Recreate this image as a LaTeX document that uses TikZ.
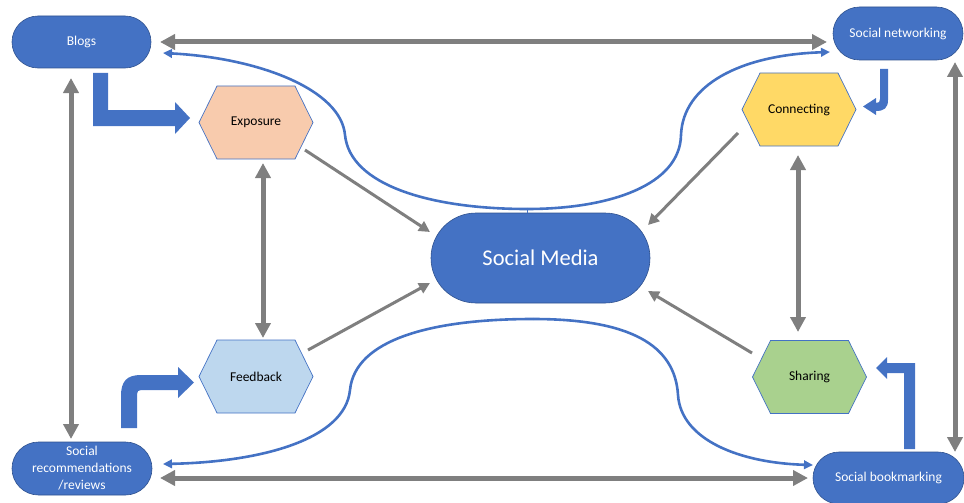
\documentclass[tikz,border=0pt]{standalone}
\usepackage{fontspec}
\setmainfont{Carlito}
\usetikzlibrary{arrows.meta,shapes.misc,calc}
\definecolor{myblue}{HTML}{4472C4}
\definecolor{pillborder}{HTML}{2F528F}
\definecolor{mygray}{HTML}{7F7F7F}
\definecolor{expofill}{HTML}{F8CBAD}
\definecolor{connfill}{HTML}{FFD966}
\definecolor{feedfill}{HTML}{BDD7EE}
\definecolor{sharefill}{HTML}{A9D18E}
\newcommand\hexagonnode[5]{%
  \draw[draw=myblue, line width=0.7pt, fill=#4] ({#2-57},#3) -- ({#2-39},{#3-36.5}) -- ({#2+39},{#3-36.5}) -- ({#2+57},#3) -- ({#2+39},{#3+36.5}) -- ({#2-39},{#3+36.5}) -- cycle;
  \node[hexlabel] (#1) at (#2,#3) {#5};}
\begin{document}
\begin{tikzpicture}[x=1pt,y=-1pt,
  pill/.style={rounded rectangle, fill=myblue, draw=pillborder, line width=0.6pt, text=white, inner sep=0pt, font=\fontsize{13.5}{17}\selectfont, align=center},
  hexlabel/.style={minimum width=114pt, minimum height=73pt, inner sep=0pt, font=\fontsize{13.5}{17}\selectfont},
  garrow/.style={draw=mygray, line width=5pt, {Triangle[length=15pt,width=15pt]}-{Triangle[length=15pt,width=15pt]}},
  tarrow/.style={draw=mygray, line width=3pt, -{Triangle[length=11pt,width=11pt]}},
  barrow/.style={draw=myblue, line width=2.6pt, -{Triangle[length=9pt,width=8.5pt]}},
  blockarrow/.style={fill=myblue},
]
\useasboundingbox (0,0) rectangle (964,503);

% pills
\node[pill, minimum width=139pt, minimum height=52pt] (blogs) at (81.5,42) {Blogs};
\node[pill, minimum width=130pt, minimum height=53pt] (snet) at (898,33.5) {Social networking};
\node[pill, minimum width=140pt, minimum height=53pt] (srec) at (82,468.5) {Social\\recommendations\\/reviews};
\node[pill, minimum width=151pt, minimum height=52pt] (sbook) at (888.5,478) {Social bookmarking};
\node[pill, minimum width=219pt, minimum height=90pt, font=\fontsize{22.5}{26}\selectfont] (sm) at (540.5,258) {Social Media};

% hexagons
\hexagonnode{expo}{256}{122.5}{expofill}{Exposure}
\hexagonnode{conn}{799}{109.5}{connfill}{Connecting}
\hexagonnode{feed}{256}{376.5}{feedfill}{Feedback}
\hexagonnode{share}{809.5}{377}{sharefill}{Sharing}

% coordinates for connector ends
\coordinate (tl) at (160,42);   \coordinate (tr) at (827,42);
\coordinate (bl) at (160,478);  \coordinate (br) at (808,478);
\coordinate (lt) at (71,78);    \coordinate (lb) at (71,439);
\coordinate (rt) at (955,62);   \coordinate (rb) at (955,452);
\coordinate (et) at (263,163);  \coordinate (eb) at (263,338);
\coordinate (ct) at (798,155);  \coordinate (cb) at (798,332);
\coordinate (e1) at (305,150);  \coordinate (e2) at (430,232);
\coordinate (f1) at (308,350);  \coordinate (f2) at (430,283);
\coordinate (c1) at (738,133);  \coordinate (c2) at (648,225);
\coordinate (s1) at (752,353);  \coordinate (s2) at (648,291);
\coordinate (jt) at (527,209);  \coordinate (jb) at (533,319);
\coordinate (ab) at (163,53);   \coordinate (an) at (830,52);
\coordinate (ar) at (163,464);  \coordinate (ak) at (813,465);

% gray double arrows
\draw[garrow] (tl) -- (tr);
\draw[garrow] (bl) -- (br);
\draw[garrow] (lt) -- (lb);
\draw[garrow] (rt) -- (rb);
\draw[garrow] (et) -- (eb);
\draw[garrow] (ct) -- (cb);

% thin gray arrows to Social Media
\draw[tarrow] (e1) -- (e2);
\draw[tarrow] (f1) -- (f2);
\draw[tarrow] (c1) -- (c2);
\draw[tarrow] (s1) -- (s2);

% blue curves
\draw[barrow] (jt) .. controls (430,209) and (350,185) .. (345,135) .. controls (341,90) and (260,58) .. (ab);
\draw[barrow] (jt) .. controls (610,209) and (680,185) .. (681,135) .. controls (683,85) and (740,55) .. (an);
\draw[barrow] (jb) .. controls (430,319) and (355,340) .. (350,390) .. controls (345,440) and (260,462) .. (ar);
\draw[barrow] (jb) .. controls (630,319) and (675,345) .. (678,395) .. controls (681,440) and (740,463) .. (ak);
\draw[myblue, line width=1pt] (jt) -- (527,213);

% blue block arrows
\fill[blockarrow] (93,73) -- (108,73) -- (108,110) -- (175,110) -- (175,102) -- (190,118) -- (175,134) -- (175,126) -- (93,126) -- cycle;
\fill[blockarrow] (121,428) -- (121,396) .. controls (121,381) and (127,375) .. (141,375) -- (178,375) -- (178,367) -- (194,382.5) -- (178,398) -- (178,390) -- (141,390) .. controls (138.5,390) and (137,391.5) .. (137,394) -- (137,428) -- cycle;
\fill[blockarrow] (904,449) -- (915,449) -- (915,363) -- (887,363) -- (887,357) -- (876,368) -- (887,379) -- (887,373) -- (904,373) -- cycle;
\fill[blockarrow] (880,69) -- (888,69) -- (888,100) .. controls (888,108) and (884,111) .. (876,111) -- (876,115) -- (863,106.5) -- (876,98) -- (876,103) .. controls (879,103) and (880,102) .. (880,99) -- cycle;
\end{tikzpicture}
\end{document}
